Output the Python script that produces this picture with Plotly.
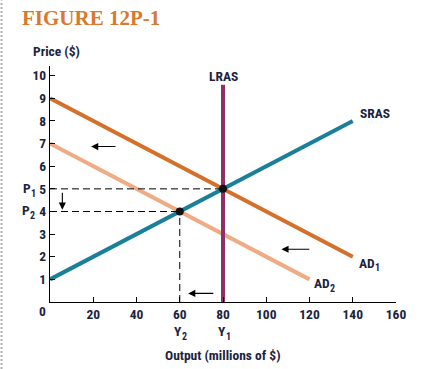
import plotly.graph_objects as go

# ---- data ----
ad1_x = [0, 140]
ad1_y = [9, 2]
ad2_x = [0, 120]
ad2_y = [7, 1]
sras_x = [0, 140]
sras_y = [1, 8]
lras_x = [80, 80]
lras_y = [0, 9.6]
eq_x = [80, 60]
eq_y = [5, 4]
x_ticks = [20, 40, 60, 80, 100, 120, 140, 160]
y_ticks = [1, 2, 3, 4, 5, 6, 7, 8, 9, 10]

NAVY = "#1c2340"
FONT = "Liberation Sans Narrow, Arial Narrow, Roboto Condensed, DejaVu Sans Condensed, sans-serif"

# plot-area geometry (pixels) used only to place labels outside the axes
L, R, T, B = 50, 396, 65.7, 302.0


def pp(px, py):
    return (px - L) / (R - L), (B - py) / (B - T)


fig = go.Figure()
fig.add_trace(go.Scatter(x=ad1_x, y=ad1_y, mode="lines",
                         line=dict(color="#d5702b", width=4), hoverinfo="skip"))
fig.add_trace(go.Scatter(x=ad2_x, y=ad2_y, mode="lines",
                         line=dict(color="#efac84", width=4), hoverinfo="skip"))
fig.add_trace(go.Scatter(x=sras_x, y=sras_y, mode="lines",
                         line=dict(color="#1a8099", width=4), hoverinfo="skip"))
fig.add_trace(go.Scatter(x=lras_x, y=lras_y, mode="lines",
                         line=dict(color="#8e2f66", width=4), hoverinfo="skip"))
dash = "7px,4px"
fig.add_trace(go.Scatter(x=[0, eq_x[0]], y=[eq_y[0], eq_y[0]], mode="lines",
                         line=dict(color="black", width=1, dash=dash), hoverinfo="skip"))
fig.add_trace(go.Scatter(x=[0, eq_x[1]], y=[eq_y[1], eq_y[1]], mode="lines",
                         line=dict(color="black", width=1, dash=dash), hoverinfo="skip"))
fig.add_trace(go.Scatter(x=[eq_x[1], eq_x[1]], y=[0, eq_y[1]], mode="lines",
                         line=dict(color="black", width=1, dash=dash), hoverinfo="skip"))
fig.add_trace(go.Scatter(x=eq_x, y=eq_y, mode="markers",
                         marker=dict(color="#111111", size=8), hoverinfo="skip"))

ann = []
lab = dict(family=FONT, size=13.5, color=NAVY, weight="bold")
sub = dict(family=FONT, size=10, color=NAVY, weight="bold")
for (x0, y0, x1, y1) in [(31, 6.87, 19, 6.87), (5.7, 4.9, 5.7, 4.08),
                         (120.6, 2.33, 107, 2.33), (76.2, 0.38, 63.9, 0.38)]:
    ann.append(dict(x=x1, y=y1, ax=x0, ay=y0, xref="x", yref="y", axref="x", ayref="y",
                    text="", showarrow=True, arrowhead=2, arrowsize=1.3, arrowwidth=1.1,
                    arrowcolor="black"))


def textat(px, py, text, font, xanchor):
    x, y = pp(px, py)
    return dict(x=x, y=y, xref="paper", yref="paper", text=text, showarrow=False,
                font=font, xanchor=xanchor, yanchor="middle", borderpad=0, borderwidth=0)


# labels with subscripts: (main text, subscript, split x, main y, sub y)
for main, s, sx, my, sy in [("P", "1", 30.5, 187.5, 193.5),
                            ("P", "2", 30.0, 210.0, 215.5),
                            ("Y", "2", 181.5, 331.5, 337.0),
                            ("Y", "1", 225.5, 331.5, 337.0),
                            ("AD", "1", 374.5, 262.7, 267.5),
                            ("AD", "2", 329.5, 283.3, 288.5)]:
    ann.append(textat(sx, my, main, lab, "right"))
    ann.append(textat(sx, sy, s, sub, "left"))

ann += [
    dict(x=80, y=10.0, text="LRAS", showarrow=False, font=lab, xanchor="center", yanchor="middle"),
    dict(x=142.5, y=8.35, text="SRAS", showarrow=False, font=lab, xanchor="left", yanchor="middle"),
    textat(223.3, 355, "Output (millions of $)", lab, "center"),
    textat(33, 50.7, "Price ($)", lab, "left"),
    textat(42, 311, "0", lab, "center"),
    textat(22, 17.3, "FIGURE 12P-1",
           dict(family="Liberation Serif, DejaVu Serif, serif", size=21,
                color="#d9782f", weight="bold"), "left"),
]

bx, _ = pp(1.5, 0)
_, by0 = pp(0, 369)
_, by1 = pp(0, 0)
fig.update_layout(
    width=442, height=369,
    margin=dict(l=50, r=46, t=66, b=67),
    paper_bgcolor="white", plot_bgcolor="white",
    showlegend=False,
    annotations=ann,
    shapes=[dict(type="line", xref="paper", yref="paper", x0=bx, x1=bx,
                 y0=by0, y1=by1, line=dict(color="#b0b0b0", width=2, dash="2px,2px"))],
    xaxis=dict(range=[0, 160], tickvals=x_ticks, ticks="inside", ticklen=5,
               tickcolor="black", showline=True, linecolor="black", linewidth=1.2,
               showgrid=False, zeroline=False, tickfont=lab, fixedrange=True),
    yaxis=dict(range=[0, 10.43], tickvals=y_ticks, ticks="inside", ticklen=5,
               tickcolor="black", showline=True, linecolor="black", linewidth=1.2,
               showgrid=False, zeroline=False, tickfont=lab, fixedrange=True),
)
fig.write_html("out.html", post_script="document.body.style.margin='0';",
               config={"displayModeBar": False})
